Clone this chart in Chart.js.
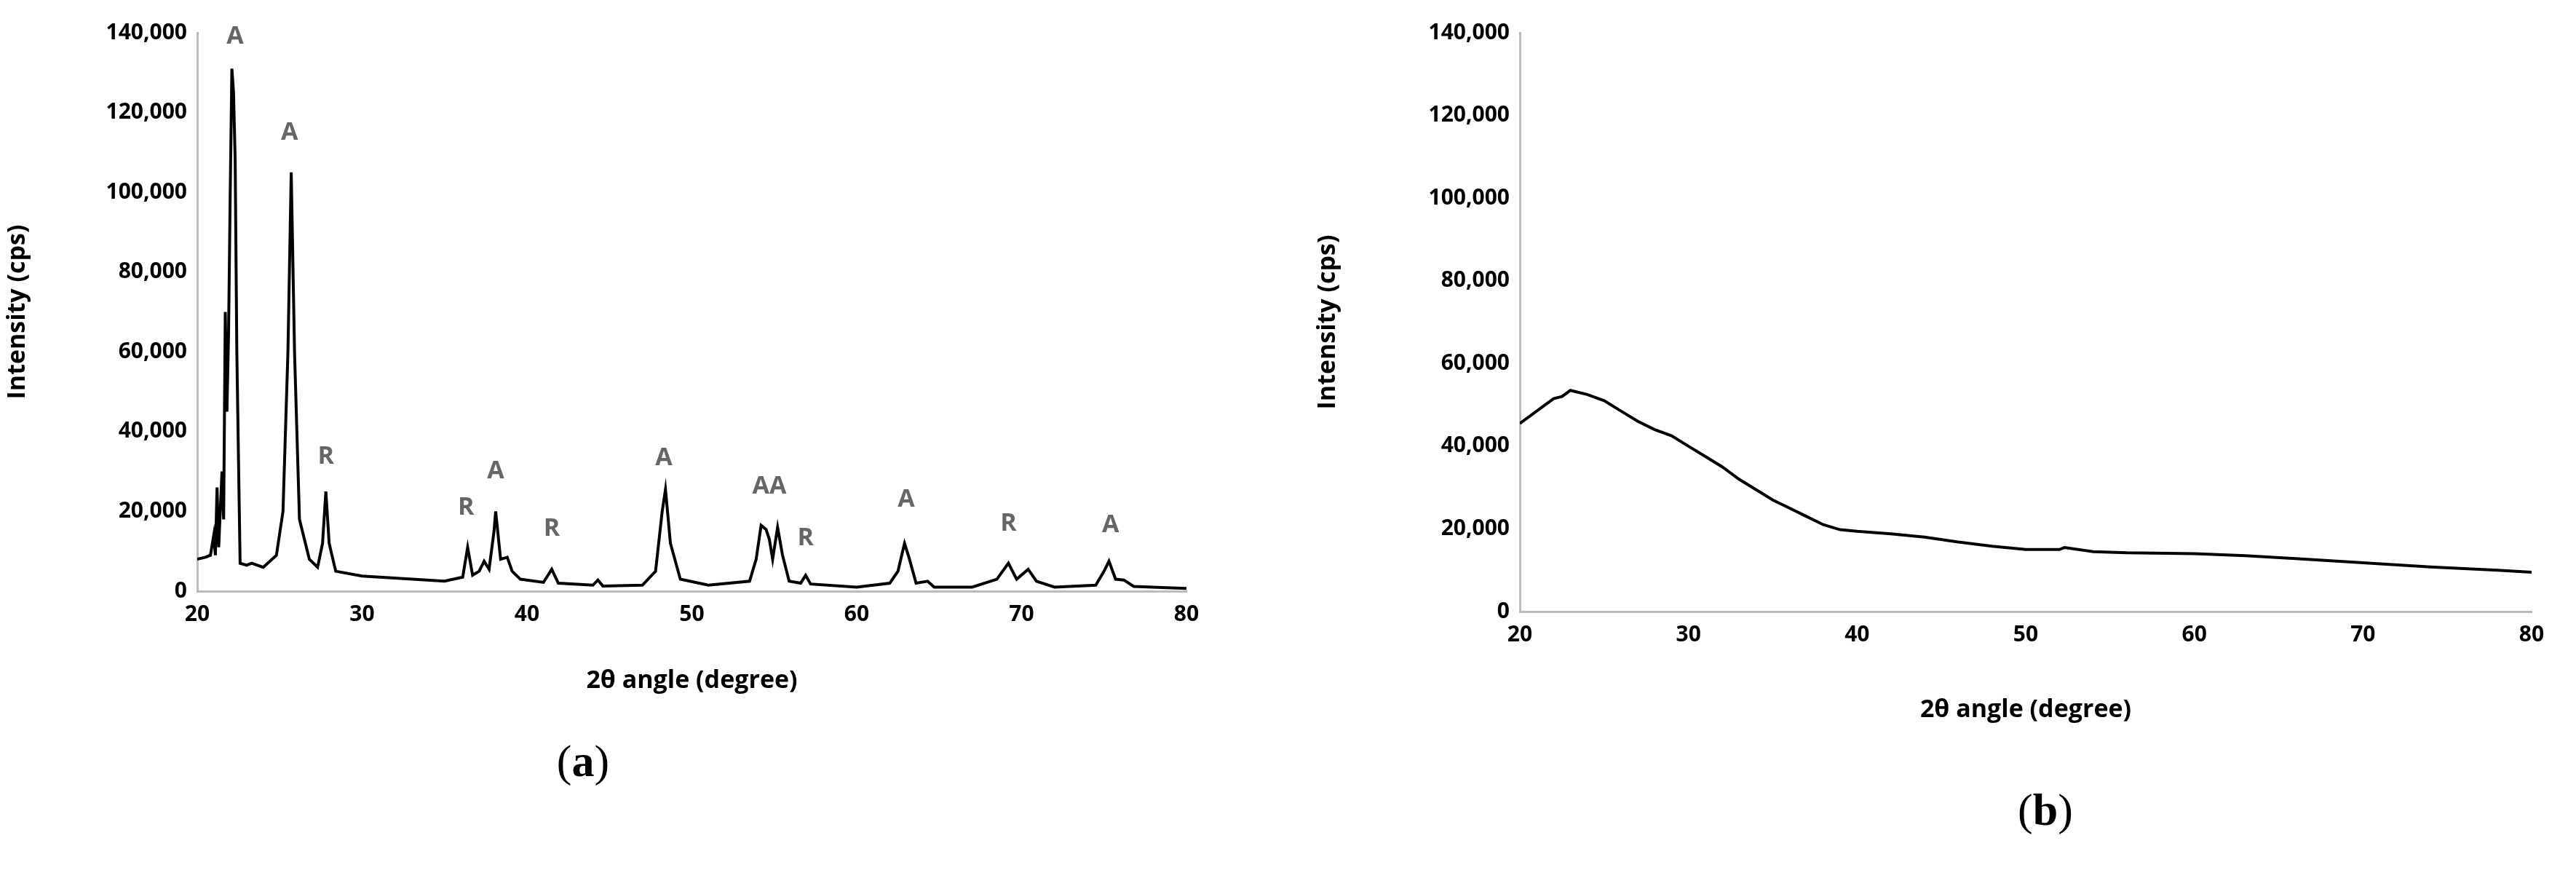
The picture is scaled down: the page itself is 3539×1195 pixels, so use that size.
<!DOCTYPE html>
<html lang="en">
<head>
<meta charset="UTF-8" />
<title>XRD patterns</title>
<script src="https://cdn.jsdelivr.net/npm/chart.js"></script>
<style>
  body { margin: 0; background: #fff; width: 3539px; height: 1195px; position: relative; overflow: hidden; }
  .panel { position: absolute; top: 0; }
  .cap { position: absolute; font-family: "Liberation Serif", serif; font-size: 62px; color: #000; transform: translateX(-50%); }
</style>
</head>
<body>
<div class="panel" style="left:0;width:1700px;height:960px"><canvas id="chartA"></canvas></div>
<div class="panel" style="left:1800px;width:1739px;height:1000px"><canvas id="chartB"></canvas></div>
<div class="cap" style="left:801px;top:1010px">(<b>a</b>)</div>
<div class="cap" style="left:2810px;top:1077px">(<b>b</b>)</div>
<script>
// pattern (a): 2θ and intensity
const angleA = [20, 20.5, 20.8, 21.0, 21.1, 21.2, 21.3, 21.5, 21.6, 21.7, 21.8, 21.9, 22.0, 22.1, 22.2, 22.3, 22.4, 22.6, 23, 23.3, 24, 24.8, 25.2, 25.5, 25.7, 25.9, 26.2, 26.8, 27.3, 27.6, 27.8, 28.0, 28.4, 30, 35, 36.1, 36.4, 36.7, 37.1, 37.4, 37.7, 38.0, 38.1, 38.4, 38.8, 39.1, 39.6, 41.0, 41.5, 41.9, 44.0, 44.3, 44.6, 47, 47.8, 48.2, 48.4, 48.7, 49.3, 51, 53.5, 53.9, 54.2, 54.5, 54.7, 54.9, 55.2, 55.5, 55.9, 56.6, 56.9, 57.2, 60, 62, 62.5, 62.9, 63.2, 63.6, 64.3, 64.7, 67, 68.5, 69.2, 69.7, 70.4, 70.9, 72, 74.5, 75.0, 75.3, 75.7, 76.2, 76.8, 80];
const intensityA = [8000, 8500, 9000, 14000, 9000, 26000, 11000, 30000, 18000, 70000, 45000, 65000, 100000, 131000, 125000, 108000, 60000, 7000, 6500, 7000, 6000, 9000, 20000, 60000, 105000, 60000, 18000, 8000, 6000, 12000, 25000, 12000, 5000, 3800, 2500, 3500, 11000, 4000, 5000, 7500, 5500, 15000, 20000, 8000, 8500, 5000, 3000, 2200, 5500, 2000, 1500, 2800, 1300, 1500, 5000, 20000, 25500, 12000, 3000, 1500, 2500, 8000, 16500, 15500, 13000, 8000, 16000, 9000, 2500, 2000, 4000, 1800, 1000, 2000, 5000, 12000, 8000, 2000, 2500, 1000, 1000, 3000, 7000, 3000, 5500, 2500, 1000, 1500, 5000, 7500, 3000, 2800, 1200, 700];
// phase labels (A = anatase, R = rutile)
const peakText = ["A", "A", "R", "R", "A", "R", "A", "AA", "R", "A", "R", "A"];
const peakAngle = [22.3, 25.6, 27.8, 36.3, 38.1, 41.5, 48.3, 54.7, 56.9, 63.0, 69.2, 75.4];
const peakLevel = [139000, 115000, 33800, 21000, 30000, 15600, 33300, 26300, 13200, 23000, 16900, 16500];

// pattern (b)
const angleB = [20, 21, 22, 22.5, 23, 24, 25, 26, 27, 28, 29, 30, 31, 32, 33, 34, 35, 36, 37, 38, 39, 40, 42, 44, 46, 48, 50, 52, 52.3, 54, 56, 60, 63, 66, 70, 74, 78, 80];
const intensityB = [45500, 48500, 51500, 52000, 53500, 52500, 51000, 48500, 46000, 44000, 42500, 40000, 37500, 35000, 32000, 29500, 27000, 25000, 23000, 21000, 19800, 19400, 18800, 18000, 16800, 15800, 15000, 15000, 15500, 14500, 14200, 14000, 13500, 12800, 11800, 10800, 10000, 9500];

const yTicks = [0, 20000, 40000, 60000, 80000, 100000, 120000, 140000];

const tickFont = { family: "Open Sans", size: 30, weight: "bold" };
const titleFont = { family: "Open Sans", size: 34, weight: "bold" };

const peakLabels = {
  id: "peakLabels",
  afterDatasetsDraw(chart, args, opts) {
    if (!opts.show) return;
    const ctx = chart.ctx, xs = chart.scales.x, ys = chart.scales.y;
    ctx.save();
    ctx.fillStyle = "#666";
    ctx.font = "bold 34px 'Open Sans'";
    ctx.textAlign = "center";
    ctx.textBaseline = "middle";
    peakText.forEach((t, i) => ctx.fillText(t, xs.getPixelForValue(peakAngle[i]), ys.getPixelForValue(peakLevel[i])));
    ctx.restore();
  }
};

function makeChart(id, xs, ys, yWidth, xHeight, padRight, showLabels) {
  new Chart(document.getElementById(id), {
    type: "line",
    data: { datasets: [{ data: xs.map((x, i) => ({ x: x, y: ys[i] })), borderColor: "#000", borderWidth: 4, pointRadius: 0, tension: 0 }] },
    options: {
      responsive: true, maintainAspectRatio: false, animation: false,
      layout: { padding: { top: 45, right: padRight, left: 0, bottom: 0 } },
      plugins: { legend: { display: false }, tooltip: { enabled: false }, peakLabels: { show: showLabels } },
      scales: {
        x: {
          type: "linear", min: 20, max: 80,
          ticks: { stepSize: 10, font: tickFont, color: "#000", padding: 14 },
          grid: { display: false, drawTicks: false },
          border: { color: "#bbb", width: 3 },
          title: { display: true, text: "2θ angle (degree)", font: titleFont, color: "#000", padding: { top: 24 } },
          afterFit: s => { s.height = xHeight; }
        },
        y: {
          min: 0, max: 140000,
          afterBuildTicks: s => { s.ticks = yTicks.map(v => ({ value: v })); },
          ticks: { font: tickFont, color: "#000", padding: 14 },
          grid: { display: false, drawTicks: false },
          border: { color: "#bbb", width: 3 },
          title: { display: true, text: "Intensity (cps)", font: titleFont, color: "#000" },
          afterFit: s => { s.width = yWidth; }
        }
      }
    },
    plugins: [peakLabels]
  });
}

makeChart("chartA", angleA, intensityA, 271, 148, 70, true);
makeChart("chartB", angleB, intensityB, 288, 160, 61, false);
</script>
</body>
</html>
